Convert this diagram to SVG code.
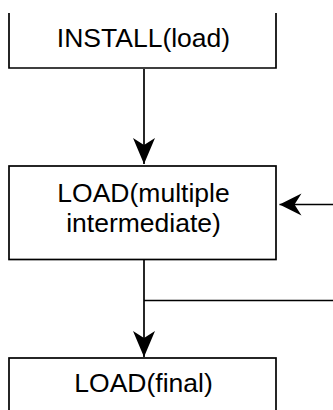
<svg xmlns="http://www.w3.org/2000/svg" width="333" height="410" viewBox="0 0 333 410">
<style>
.box{fill:#ffffff;stroke:#000000;stroke-width:1.7}
.lbl{font-family:"Liberation Sans",Arial,sans-serif;font-size:26.5px;fill:#000000;text-anchor:middle}
.edge{fill:none;stroke:#000000;stroke-width:1.7}
</style>
<defs>
<marker id="arr" markerUnits="userSpaceOnUse" markerWidth="30" markerHeight="24" viewBox="-27 -12 28 24" refX="0" refY="0" orient="auto">
<path d="M0,0 L-26,-11 L-19,0 L-26,11 Z" fill="#000000"/>
</marker>
<marker id="arrh" markerUnits="userSpaceOnUse" markerWidth="30" markerHeight="24" viewBox="-27 -12 28 24" refX="0" refY="0" orient="auto">
<path d="M0,0 L-22,-11 L-15,0 L-22,11 Z" fill="#000000"/>
</marker>
</defs>
<rect x="0" y="0" width="333" height="410" fill="#ffffff"/>
<g id="connectors">
<path class="edge" d="M144,69 V164" marker-end="url(#arr)"/>
<path class="edge" d="M333,204.5 H279.5" marker-end="url(#arrh)"/>
<path class="edge" d="M144,260 V357" marker-end="url(#arr)"/>
<path class="edge" d="M144,300.5 H333"/>
</g>
<g id="node-install">
<rect x="9" y="13" width="267" height="55" fill="#ffffff"/>
<path class="edge" d="M9,13 V68 H276 V13"/>
<text class="lbl" x="143.5" y="47">INSTALL(load)</text>
</g>
<g id="node-load-intermediate">
<rect class="box" x="9" y="166" width="267" height="93.5"/>
<text class="lbl" x="143.5" y="202">LOAD(multiple</text>
<text class="lbl" x="143.5" y="232">intermediate)</text>
</g>
<g id="node-load-final">
<rect class="box" x="9" y="358" width="267" height="60"/>
<text class="lbl" x="143.5" y="392">LOAD(final)</text>
</g>
</svg>
